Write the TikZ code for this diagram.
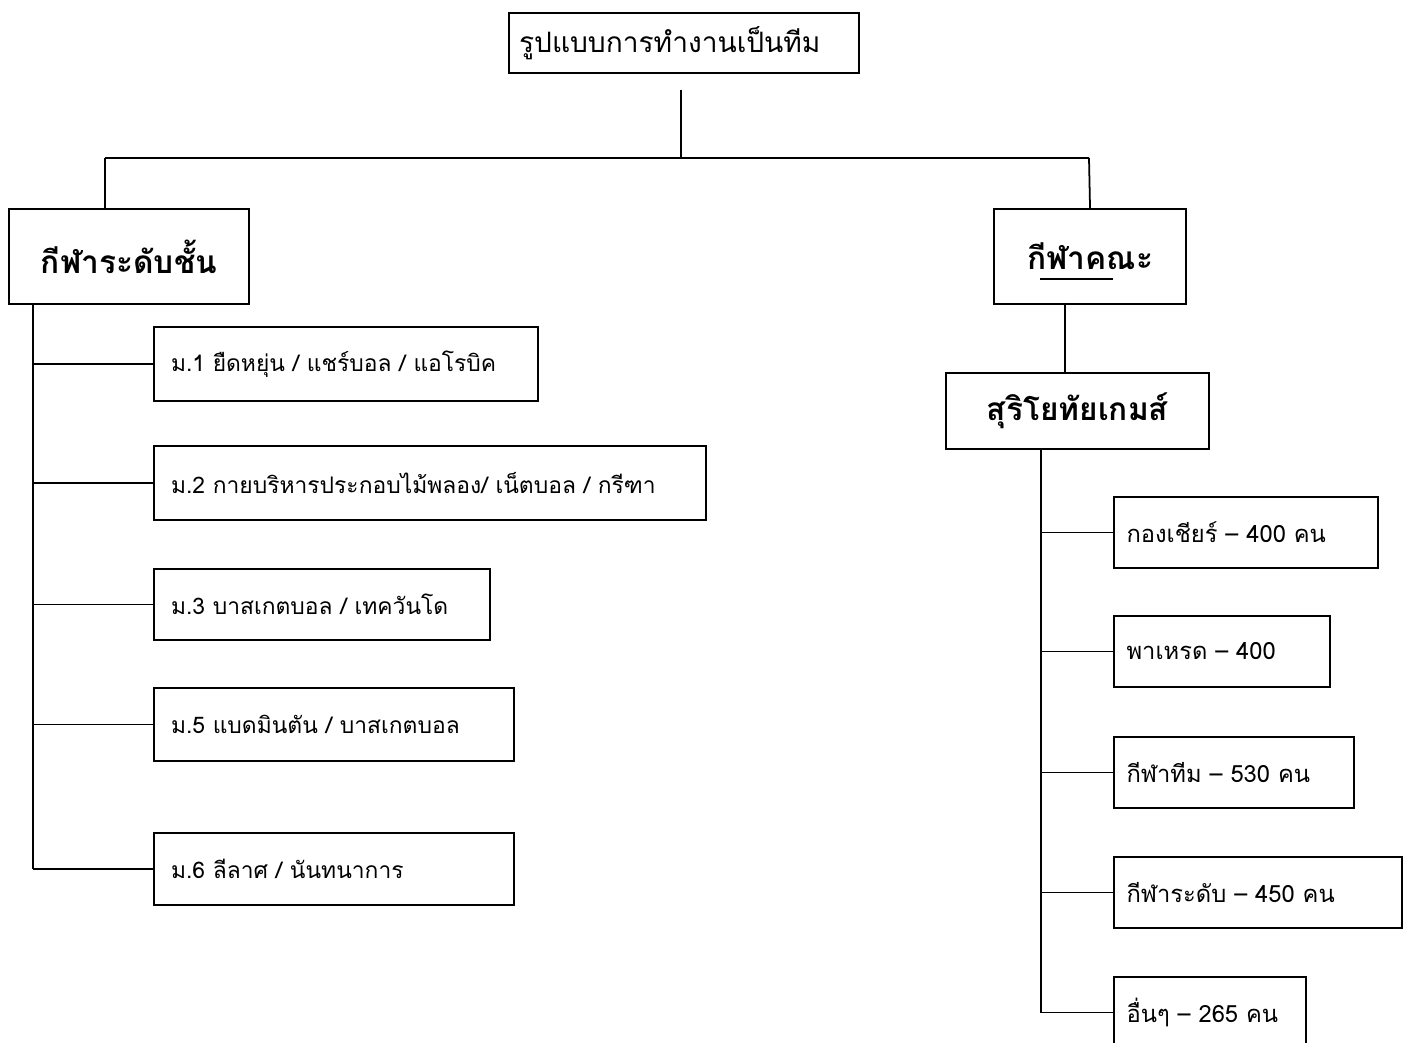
\documentclass[tikz,border=0pt]{standalone}
\usepackage{fontspec}
\setmainfont[Script=Thai]{Loma}
\usepackage{tikz}
\usetikzlibrary{calc}

\tikzset{
    box/.style={draw, line width=1.2pt, anchor=north west, align=left},
    item/.style={box, inner xsep=0.34cm, font=\fontsize{13}{15}\selectfont},
    sub/.style={box, inner xsep=0.25cm, minimum height=1.42cm, font=\fontsize{13.5}{15}\selectfont},
    head/.style={draw, line width=1.2pt, anchor=north west, align=center, font=\bfseries\fontsize{18}{22}\selectfont},
    link/.style={line width=1pt}
}

\begin{document}
\begin{tikzpicture}[x=0.02cm, y=-0.02cm]
    \useasboundingbox (0,0) rectangle (1407,1043);

    % =====================
    % Top
    % =====================
    \node[box, inner xsep=0.2cm, text width=6.6cm, minimum height=1.2cm,
          font=\fontsize{16}{19}\selectfont] (T) at (508,12) {รูปแบบการทำงานเป็นทีม};
    \coordinate (tTop) at (681,90);
    \coordinate (bM) at (681,158);
    \coordinate (bL) at (105,158);
    \coordinate (bR) at (1089,158);
    \draw[link] (tTop) -- (bM);
    \draw[link] (bL) -- (bR);

    % =====================
    % Headers
    % =====================
    \node[head, minimum width=4.8cm, minimum height=1.9cm] (L) at (8,208) {กีฬาระดับชั้น};
    \node[head, minimum width=3.84cm, minimum height=1.9cm] (R) at (993,208) {กีฬาคณะ};
    \draw[link] (1040,279) -- (1113,279);
    \draw[link] (bL) -- (bL |- L.north);
    \draw[link] (bR) -- (R.north);

    % =====================
    % Left branch
    % =====================
    \node[item, text width=7.0cm, minimum height=1.48cm] (m1) at (153,326) {ม.1 ยืดหยุ่น / แชร์บอล / แอโรบิค};
    \node[item, text width=10.36cm, minimum height=1.48cm] (m2) at (153,445) {ม.2 กายบริหารประกอบไม้พลอง/ เน็ตบอล / กรีฑา};
    \node[item, text width=6.04cm, minimum height=1.42cm] (m3) at (153,568) {ม.3 บาสเกตบอล / เทควันโด};
    \node[item, text width=6.52cm, minimum height=1.46cm] (m5) at (153,687) {ม.5 แบดมินตัน / บาสเกตบอล};
    \node[item, text width=6.52cm, minimum height=1.44cm] (m6) at (153,832) {ม.6 ลีลาศ / นันทนาการ};

    \coordinate (sL) at (33,303);
    \draw[link] (sL) -- (sL |- m6.west);
    \foreach \m in {m1,m2,m3,m5,m6} {
        \draw[link] (sL |- \m.west) -- (\m.west);
    }

    % =====================
    % Right branch
    % =====================
    \node[head, minimum width=5.26cm, minimum height=1.52cm] (S) at (945,372) {สุริโยทัยเกมส์};
    \coordinate (rs) at (1065,303);
    \draw[link] (rs) -- (rs |- S.north);

    \foreach \n/\y/\t/\w in {r1/496/4.78/{กองเชียร์ – 400 คน}, r2/615/3.82/{พาเหรด – 400},
        r3/736/4.3/{กีฬาทีม – 530 คน}, r4/856/5.26/{กีฬาระดับ – 450 คน}, r5/976/3.34/{อื่นๆ – 265 คน}} {
        \node[sub, text width=\t cm] (\n) at (1113,\y) {\w};
    }

    \coordinate (sR) at (1041,448);
    \draw[link] (sR) -- (sR |- r5.west);
    \foreach \n in {r1,r2,r3,r4,r5} {
        \draw[link] (sR |- \n.west) -- (\n.west);
    }
\end{tikzpicture}
\end{document}
